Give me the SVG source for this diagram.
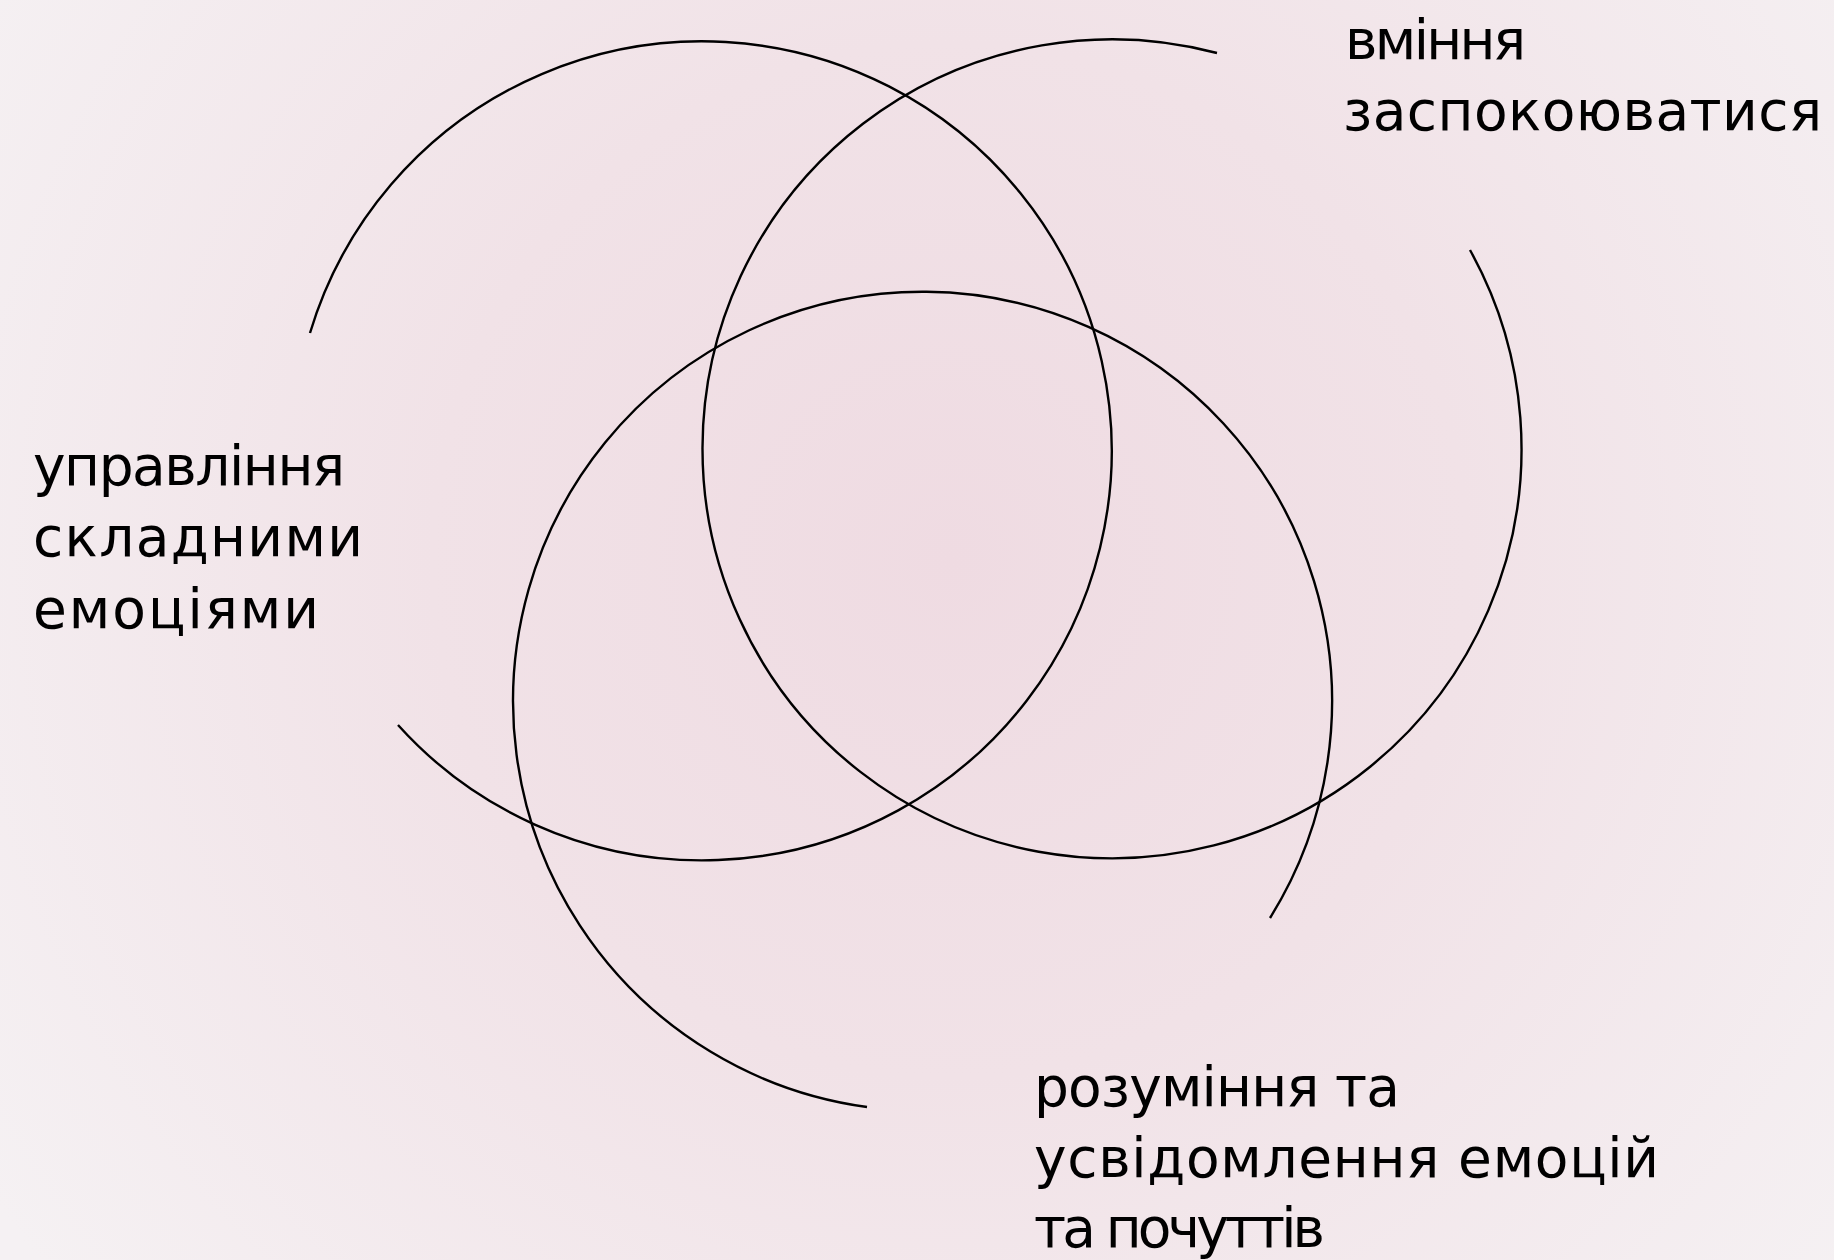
<svg xmlns="http://www.w3.org/2000/svg" width="1834" height="1260" viewBox="0 0 1834 1260">
  <defs>
    <radialGradient id="bg" cx="950" cy="560" r="1150" gradientUnits="userSpaceOnUse">
      <stop offset="0" stop-color="#efdbe2"/>
      <stop offset="0.45" stop-color="#f1e2e7"/>
      <stop offset="1" stop-color="#f5f1f3"/>
    </radialGradient>
    <style>
      .arc { fill: none; stroke: #000000; stroke-width: 2.4; stroke-linecap: butt; }
      .lbl { font-family: "DejaVu Sans", "Noto Sans", sans-serif; font-size: 55px; fill: #000000; }
    </style>
  </defs>
  <rect x="0" y="0" width="1834" height="1260" fill="url(#bg)"/>

  <g id="connectors">
    <path id="arc-left" class="arc" d="M 310 333 A 409.5 409.5 0 1 1 398 725"/>
    <path id="arc-right" class="arc" d="M 1470 250 A 409.5 409.5 0 1 1 1217 53"/>
    <path id="arc-bottom" class="arc" d="M 867 1107 A 409.5 409.5 0 1 1 1270 918"/>
  </g>

  <g id="node-calm">
    <text class="lbl" x="1345" y="59" textLength="181" lengthAdjust="spacing">вміння</text>
    <text class="lbl" x="1343" y="130" textLength="479" lengthAdjust="spacing">заспокоюватися</text>
  </g>

  <g id="node-manage">
    <text class="lbl" x="33" y="485" textLength="312" lengthAdjust="spacing">управління</text>
    <text class="lbl" x="33" y="556" textLength="330" lengthAdjust="spacing">складними</text>
    <text class="lbl" x="33" y="628" textLength="286" lengthAdjust="spacing">емоціями</text>
  </g>

  <g id="node-understand">
    <text class="lbl" x="1034" y="1106" textLength="366" lengthAdjust="spacing">розуміння та</text>
    <text class="lbl" x="1034" y="1177" textLength="625" lengthAdjust="spacing">усвідомлення емоцій</text>
    <text class="lbl" x="1034" y="1247" textLength="291" lengthAdjust="spacing">та почуттів</text>
  </g>
</svg>
